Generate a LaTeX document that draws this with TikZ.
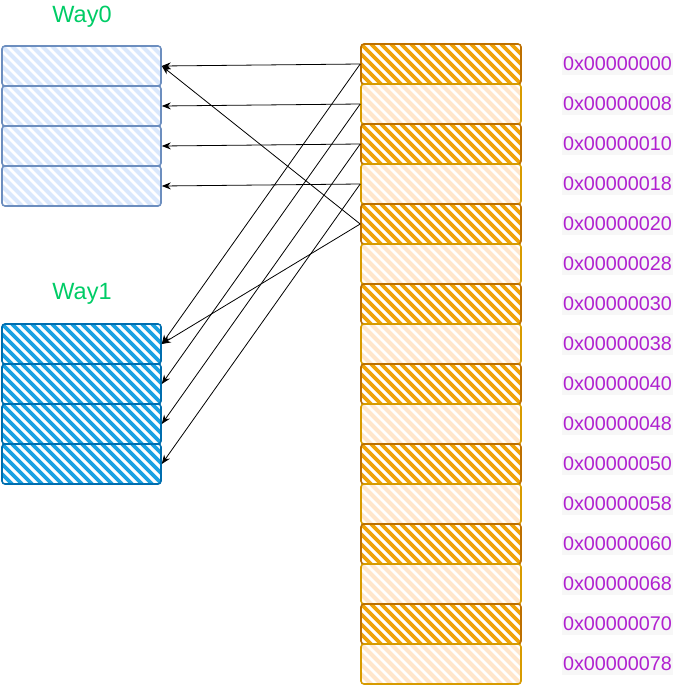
\documentclass[tikz,border=0pt]{standalone}
\usepackage{fontspec}
\setmainfont{Liberation Sans}
\usetikzlibrary{arrows.meta}
\definecolor{wzfill}{HTML}{DAE8FC}
\definecolor{wzline}{HTML}{6C8EBF}
\definecolor{wofill}{HTML}{1BA1E2}
\definecolor{woline}{HTML}{006EAF}
\definecolor{mdfill}{HTML}{F0A30A}
\definecolor{mdline}{HTML}{BD7000}
\definecolor{mlfill}{HTML}{FFE6CC}
\definecolor{mlline}{HTML}{D79B00}
\definecolor{waygreen}{HTML}{00CC66}
\definecolor{addrpurple}{HTML}{B020D0}
\tikzset{
  hatch/.style 2 args={path picture={
    \foreach \k in {-60,-50,...,170}{
      \draw[#1,line width=#2,line cap=round]
        ([xshift=\k pt]path picture bounding box.north west) -- ++(55pt,-55pt);}
  }},
  cell/.style={rectangle,rounded corners=3pt,minimum width=159pt,minimum height=40pt,
    inner sep=0pt,line width=1.6pt},
  wayzero/.style={cell,draw=wzline,hatch={wzfill}{4.2pt}},
  wayone/.style={cell,draw=woline,hatch={wofill}{3.6pt}},
  memdark/.style={cell,minimum width=160pt,draw=mdline,hatch={mdfill}{3.6pt}},
  memlight/.style={cell,minimum width=160pt,draw=mlline,hatch={mlfill}{4.2pt}},
  waylabel/.style={text=waygreen,font=\fontsize{23.5}{25}\selectfont,inner sep=0pt},
  addr/.style={text=addrpurple,font=\fontsize{19.8}{21}\selectfont,fill=black!3,
    inner xsep=1pt,inner ysep=4pt},
  arr/.style={draw=black,line width=0.8pt,-{Stealth[length=9pt,width=7pt]}},
}
\begin{document}
\begin{tikzpicture}[x=1pt,y=-1pt]
\useasboundingbox (0,0) rectangle (682,686);
\node[waylabel] (l0) at (82,17) {Way0};
\node[waylabel] (l1) at (82,294) {Way1};
\foreach \i in {0,...,3}{
  \node[wayzero] (w0r\i) at (81.5,66+40*\i) {};
  \node[wayone] (w1r\i) at (81.5,344+40*\i) {};
}
\foreach \i/\a in {0/00,1/08,2/10,3/18,4/20,5/28,6/30,7/38,8/40,9/48,10/50,11/58,12/60,13/68,14/70,15/78}{
  \pgfmathtruncatemacro{\parity}{mod(\i,2)}
  \ifnum\parity=0
    \node[memdark] (m\i) at (441,64+40*\i) {};
  \else
    \node[memlight] (m\i) at (441,64+40*\i) {};
  \fi
  \node[addr] (a\i) at (617.5,64+40*\i) {0x000000\a};
}
\foreach \i in {0,...,3}{
  \draw[arr] (m\i.west) -- (w0r\i.east);
  \draw[arr] (m\i.west) -- (w1r\i.east);
}
\draw[arr] (m4.west) -- (w0r0.east);
\draw[arr] (m4.west) -- (w1r0.east);
\end{tikzpicture}
\end{document}
